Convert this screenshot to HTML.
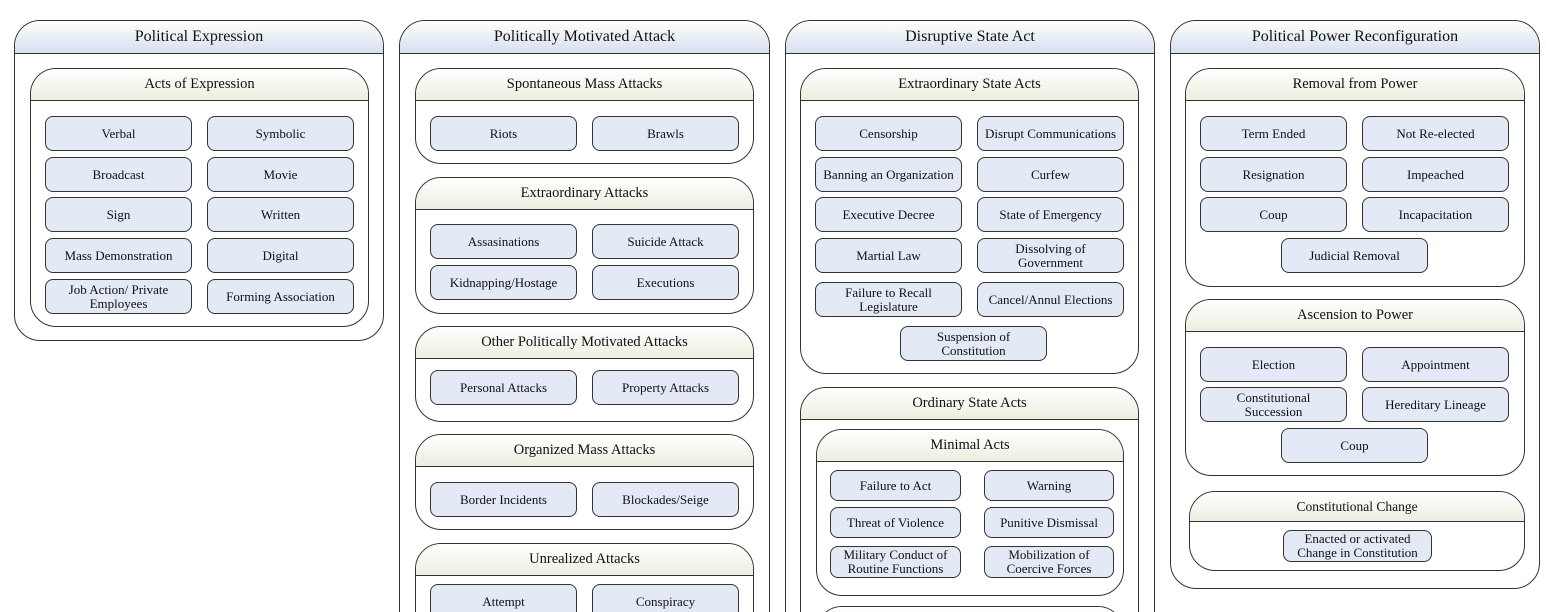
<!DOCTYPE html>
<html><head><meta charset="utf-8"><style>
html,body{margin:0;padding:0;width:1546px;height:612px;overflow:hidden;background:#fff}
#w{position:relative;width:1546px;height:612px;overflow:hidden;font-family:"Liberation Serif",serif;color:#111}
.b{position:absolute;border:1px solid #333;border-radius:26px;background:#fff;overflow:hidden;box-sizing:border-box}
.h{border-bottom:1px solid #333;text-align:center;box-sizing:border-box}
.t>.h{height:33px;line-height:32px;font-size:16px;background:linear-gradient(#fff,#d6e0ef)}
.s>.h{height:32px;line-height:31px;font-size:14.5px;background:linear-gradient(#fff,#eceee0)}
.l{position:absolute;border:1px solid #333;border-radius:8px;background:#e3e9f5;box-sizing:border-box;display:flex;align-items:center;justify-content:center;text-align:center;font-size:13px;line-height:14px}
</style></head><body><div id="w">
<!-- Column 1 -->
<div class="b t" style="left:14px;top:20px;width:370px;height:321px"><div class="h">Political Expression</div></div>
<div class="b s" style="left:30px;top:68px;width:339px;height:259px"><div class="h">Acts of Expression</div></div>
<div class="l" style="left:45px;top:116px;width:147px;height:35px">Verbal</div>
<div class="l" style="left:207px;top:116px;width:147px;height:35px">Symbolic</div>
<div class="l" style="left:45px;top:157px;width:147px;height:35px">Broadcast</div>
<div class="l" style="left:207px;top:157px;width:147px;height:35px">Movie</div>
<div class="l" style="left:45px;top:197px;width:147px;height:35px">Sign</div>
<div class="l" style="left:207px;top:197px;width:147px;height:35px">Written</div>
<div class="l" style="left:45px;top:238px;width:147px;height:35px">Mass Demonstration</div>
<div class="l" style="left:207px;top:238px;width:147px;height:35px">Digital</div>
<div class="l" style="left:45px;top:279px;width:147px;height:35px">Job Action/ Private<br>Employees</div>
<div class="l" style="left:207px;top:279px;width:147px;height:35px">Forming Association</div>

<!-- Column 2 -->
<div class="b t" style="left:399px;top:20px;width:371px;height:640px"><div class="h">Politically Motivated Attack</div></div>
<div class="b s" style="left:415px;top:68px;width:339px;height:96px"><div class="h">Spontaneous Mass Attacks</div></div>
<div class="l" style="left:430px;top:116px;width:147px;height:35px">Riots</div>
<div class="l" style="left:592px;top:116px;width:147px;height:35px">Brawls</div>
<div class="b s" style="left:415px;top:177px;width:339px;height:137px"><div class="h">Extraordinary Attacks</div></div>
<div class="l" style="left:430px;top:224px;width:147px;height:35px">Assasinations</div>
<div class="l" style="left:592px;top:224px;width:147px;height:35px">Suicide Attack</div>
<div class="l" style="left:430px;top:265px;width:147px;height:35px">Kidnapping/Hostage</div>
<div class="l" style="left:592px;top:265px;width:147px;height:35px">Executions</div>
<div class="b s" style="left:415px;top:326px;width:339px;height:96px"><div class="h">Other Politically Motivated Attacks</div></div>
<div class="l" style="left:430px;top:370px;width:147px;height:35px">Personal Attacks</div>
<div class="l" style="left:592px;top:370px;width:147px;height:35px">Property Attacks</div>
<div class="b s" style="left:415px;top:434px;width:339px;height:96px"><div class="h">Organized Mass Attacks</div></div>
<div class="l" style="left:430px;top:482px;width:147px;height:35px">Border Incidents</div>
<div class="l" style="left:592px;top:482px;width:147px;height:35px">Blockades/Seige</div>
<div class="b s" style="left:415px;top:543px;width:339px;height:100px"><div class="h">Unrealized Attacks</div></div>
<div class="l" style="left:430px;top:584px;width:147px;height:35px">Attempt</div>
<div class="l" style="left:592px;top:584px;width:147px;height:35px">Conspiracy</div>

<!-- Column 3 -->
<div class="b t" style="left:785px;top:20px;width:370px;height:640px"><div class="h">Disruptive State Act</div></div>
<div class="b s" style="left:800px;top:68px;width:339px;height:306px"><div class="h">Extraordinary State Acts</div></div>
<div class="l" style="left:815px;top:116px;width:147px;height:35px">Censorship</div>
<div class="l" style="left:977px;top:116px;width:147px;height:35px">Disrupt Communications</div>
<div class="l" style="left:815px;top:157px;width:147px;height:35px">Banning an Organization</div>
<div class="l" style="left:977px;top:157px;width:147px;height:35px">Curfew</div>
<div class="l" style="left:815px;top:197px;width:147px;height:35px">Executive Decree</div>
<div class="l" style="left:977px;top:197px;width:147px;height:35px">State of Emergency</div>
<div class="l" style="left:815px;top:238px;width:147px;height:35px">Martial Law</div>
<div class="l" style="left:977px;top:238px;width:147px;height:35px">Dissolving of<br>Government</div>
<div class="l" style="left:815px;top:282px;width:147px;height:35px">Failure to Recall<br>Legislature</div>
<div class="l" style="left:977px;top:282px;width:147px;height:35px">Cancel/Annul Elections</div>
<div class="l" style="left:900px;top:326px;width:147px;height:35px">Suspension of<br>Constitution</div>
<div class="b s" style="left:800px;top:387px;width:339px;height:300px"><div class="h">Ordinary State Acts</div></div>
<div class="b s" style="left:816px;top:429px;width:308px;height:167px"><div class="h">Minimal Acts</div></div>
<div class="l" style="left:830px;top:470px;width:131px;height:31px">Failure to Act</div>
<div class="l" style="left:984px;top:470px;width:130px;height:31px">Warning</div>
<div class="l" style="left:830px;top:507px;width:131px;height:31px">Threat of Violence</div>
<div class="l" style="left:984px;top:507px;width:130px;height:31px">Punitive Dismissal</div>
<div class="l" style="left:830px;top:546px;width:131px;height:32px">Military Conduct of<br>Routine Functions</div>
<div class="l" style="left:984px;top:546px;width:130px;height:32px">Mobilization of<br>Coercive Forces</div>
<div class="b s" style="left:816px;top:606px;width:308px;height:60px"><div class="h"></div></div>

<!-- Column 4 -->
<div class="b t" style="left:1170px;top:20px;width:370px;height:569px"><div class="h">Political Power Reconfiguration</div></div>
<div class="b s" style="left:1185px;top:68px;width:340px;height:219px"><div class="h">Removal from Power</div></div>
<div class="l" style="left:1200px;top:116px;width:147px;height:35px">Term Ended</div>
<div class="l" style="left:1362px;top:116px;width:147px;height:35px">Not Re-elected</div>
<div class="l" style="left:1200px;top:157px;width:147px;height:35px">Resignation</div>
<div class="l" style="left:1362px;top:157px;width:147px;height:35px">Impeached</div>
<div class="l" style="left:1200px;top:197px;width:147px;height:35px">Coup</div>
<div class="l" style="left:1362px;top:197px;width:147px;height:35px">Incapacitation</div>
<div class="l" style="left:1281px;top:238px;width:147px;height:35px">Judicial Removal</div>
<div class="b s" style="left:1185px;top:299px;width:340px;height:177px"><div class="h">Ascension to Power</div></div>
<div class="l" style="left:1200px;top:347px;width:147px;height:35px">Election</div>
<div class="l" style="left:1362px;top:347px;width:147px;height:35px">Appointment</div>
<div class="l" style="left:1200px;top:387px;width:147px;height:35px">Constitutional<br>Succession</div>
<div class="l" style="left:1362px;top:387px;width:147px;height:35px">Hereditary Lineage</div>
<div class="l" style="left:1281px;top:428px;width:147px;height:35px">Coup</div>
<div class="b s" style="left:1189px;top:491px;width:336px;height:80px"><div class="h" style="height:30px;line-height:29px;font-size:13.5px">Constitutional Change</div></div>
<div class="l" style="left:1283px;top:530px;width:149px;height:32px">Enacted or activated<br>Change in Constitution</div>
</div></body></html>
